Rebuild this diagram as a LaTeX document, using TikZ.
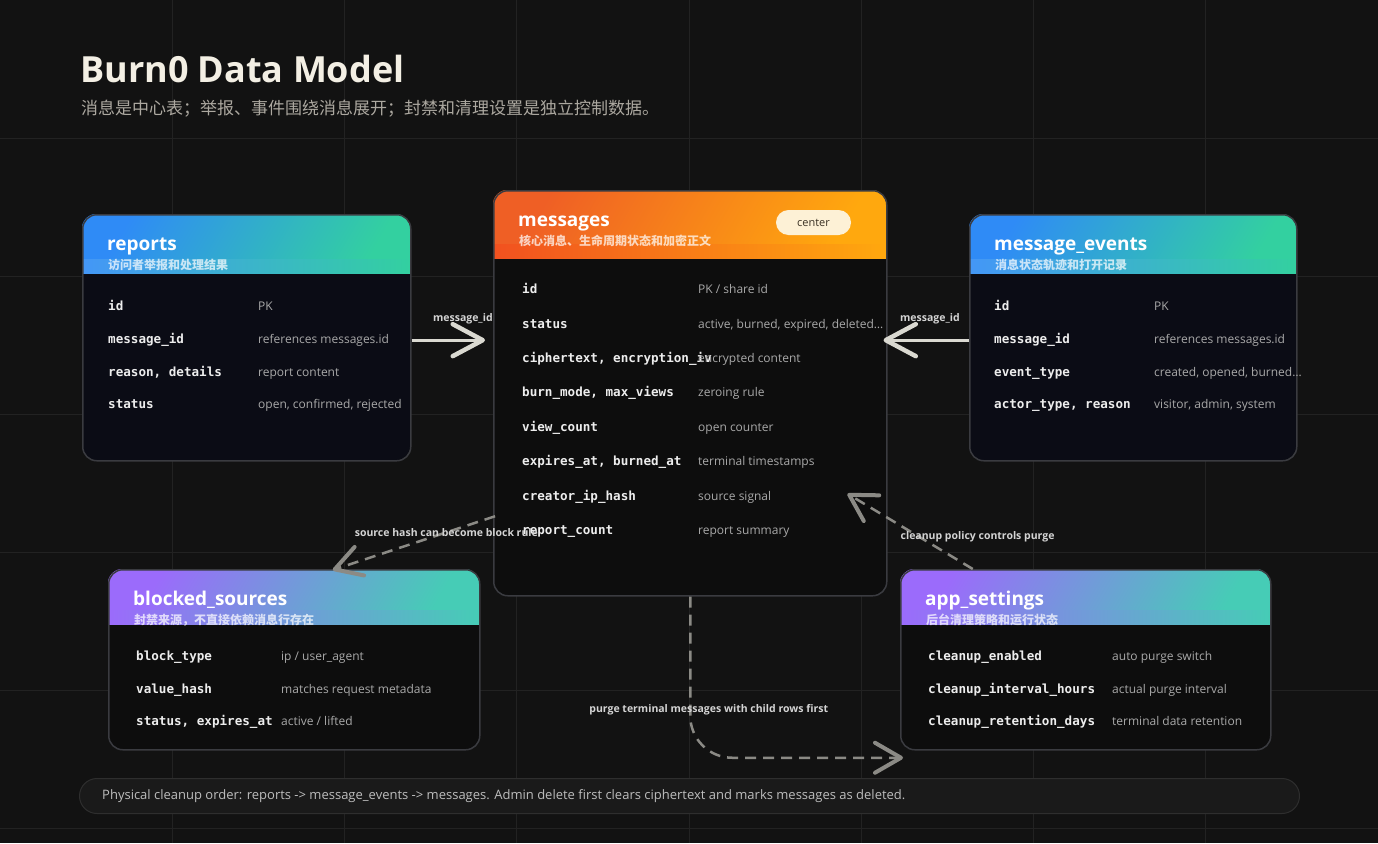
\documentclass[tikz,border=0pt]{standalone}
\usepackage{fontspec}
\setmainfont{Open Sans}
\setmonofont{DejaVu Sans Mono}
\newfontfamily\cjk{Noto Sans CJK SC}
\usetikzlibrary{arrows.meta,positioning}

\definecolor{bgcol}{HTML}{121212}
\definecolor{gridcol}{HTML}{222222}
\definecolor{titlecol}{HTML}{F3EFE4}
\definecolor{subcol}{HTML}{ACA8A0}
\definecolor{framecol}{HTML}{3A3B40}
\definecolor{navybody}{HTML}{0B0C15}
\definecolor{darkbody}{HTML}{0D0D0D}
\definecolor{keycol}{HTML}{EDEDED}
\definecolor{valcol}{HTML}{A9A9A9}
\definecolor{fkcol}{HTML}{DAD9D1}
\definecolor{dashcol}{HTML}{8B8A85}
\definecolor{lblcol}{HTML}{D4D4D4}
\definecolor{pillcol}{HTML}{FDF1D6}
\definecolor{pilltext}{HTML}{3A3124}
\definecolor{footfill}{HTML}{1A1A1A}
\definecolor{footline}{HTML}{2E2E2E}
\definecolor{foottext}{HTML}{BDBDBD}
\definecolor{hdblueA}{HTML}{2F8BF6}
\definecolor{hdblueB}{HTML}{33D0A0}
\definecolor{hdorangeA}{HTML}{EF5F25}
\definecolor{hdorangeB}{HTML}{FFA80E}
\definecolor{hdpurpleA}{HTML}{9B6BFB}
\definecolor{hdpurpleB}{HTML}{46CCB6}

\tikzset{
  tblframe/.style={draw=framecol, line width=1.5pt, rounded corners=14pt, inner sep=0pt},
  tbltitle/.style={anchor=base west, inner sep=0pt, text=white, font=\bfseries\fontsize{19}{22}\selectfont},
  tblsub/.style={anchor=base west, inner sep=0pt, text=white, text opacity=0.72, font=\cjk\bfseries\fontsize{12}{14}\selectfont},
  keytxt/.style={anchor=base west, inner sep=0pt, text height=9pt, text depth=2.5pt, text=keycol, font=\ttfamily\bfseries\fontsize{12.6}{14}\selectfont},
  valtxt/.style={anchor=base west, inner sep=0pt, text height=9pt, text depth=2.5pt, text=valcol, font=\fontsize{12}{14}\selectfont},
  lbl/.style={inner sep=0pt, text=lblcol, font=\bfseries\fontsize{10.5}{12}\selectfont},
  fkarrow/.style={draw=fkcol, line width=3pt, -{Straight Barb[length=30pt,width=32pt,line width=4.5pt,round]}},
  dasharrow/.style={draw=dashcol, line width=2.5pt, dash pattern=on 11pt off 7pt, -{Straight Barb[length=26pt,width=30pt,line width=4pt,round]}},
  gridline/.style={draw=gridcol, line width=1pt},
  pill/.style={fill=pillcol, rounded corners=12.5pt, minimum width=75pt, minimum height=25pt, inner sep=0pt, text=pilltext, font=\fontsize{11}{13}\selectfont},
  footbar/.style={fill=footfill, draw=footline, line width=1pt, rounded corners=17.5pt, inner sep=0pt},
  bluebody/.style={fill=navybody},
  orangebody/.style={fill=darkbody},
  purplebody/.style={fill=darkbody},
  bluehead/.style={left color=hdblueA, right color=hdblueB, shading angle=60},
  orangehead/.style={left color=hdorangeA, right color=hdorangeB, shading angle=60},
  purplehead/.style={left color=hdpurpleA, right color=hdpurpleB, shading angle=60},
  bluebar/.style={left color=hdblueA!90!white, right color=hdblueB},
  orangebar/.style={left color=hdorangeA!85!red, right color=hdorangeB},
  purplebar/.style={left color=hdpurpleA, right color=hdpurpleB},
}

% table: name, left, top, width, height, header height, theme, title, subtitle
\newcommand{\dbtable}[9]{%
  \fill[#7body, rounded corners=14pt] (#2,#3) rectangle ++(#4,#5);
  \begin{scope}
    \clip[rounded corners=14pt] (#2,#3) rectangle ++(#4,#5);
    \shade[#7head] (#2,#3) rectangle ++(#4,#6);
    \shade[#7bar] (#2,#3+#6-14) rectangle ++(#4,14);
  \end{scope}
  \node[tblframe, minimum width=#4pt, minimum height=#5pt, anchor=north west] (#1) at (#2,#3) {};
  \node[tbltitle] (#1-title) at (#2+25,#3+36) {#8};
  \node[tblsub] (#1-sub) at (#2+26,#3+55) {#9};
}

\begin{document}
\begin{tikzpicture}[x=1pt, y=-1pt]
  % canvas and grid
  \fill[bgcol] (0,0) rectangle (1378,843);
  \useasboundingbox (0,0) rectangle (1378,843);
  \foreach \gx in {1,...,7}
    \draw[gridline] (\gx*172.25,0) -- (\gx*172.25,843);
  \foreach \gy in {1,...,6}
    \draw[gridline] (0,\gy*138) -- (1378,\gy*138);

  % heading
  \node[anchor=base west, inner sep=0pt, text=titlecol, font=\bfseries\fontsize{36}{40}\selectfont] (title) at (80,82) {Burn0 Data Model};
  \node[anchor=base west, inner sep=0pt, text=subcol, font=\cjk\fontsize{17}{20}\selectfont] (subtitle) at (81,114.5) {消息是中心表；举报、事件围绕消息展开；封禁和清理设置是独立控制数据。};

  % tables
  \dbtable{reports}{82}{214}{328}{246}{59}{blue}{reports}{访问者举报和处理结果}
  \dbtable{messages}{493}{190}{393}{405}{68}{orange}{messages}{核心消息、生命周期状态和加密正文}
  \dbtable{events}{969}{214}{327}{246}{59}{blue}{message\_events}{消息状态轨迹和打开记录}
  \dbtable{blocked}{108}{569}{371}{180}{55}{purple}{blocked\_sources}{封禁来源，不直接依赖消息行存在}
  \dbtable{settings}{900}{569}{370}{180}{55}{purple}{app\_settings}{后台清理策略和运行状态}
  \node[pill] (badge) at (813.5,222.5) {center};

  % columns
  \foreach \k/\v [count=\i] in {id/PK, message\_id/references messages.id, {reason, details}/report content, status/{open, confirmed, rejected}} {
    \node[keytxt] (reports-k\i) at (108,{310.7+32.7*(\i-1)}) {\k};
    \node[valtxt] (reports-v\i) at (258,{310.7+32.7*(\i-1)}) {\v};
  }
  \foreach \k/\v [count=\i] in {id/{PK / share id}, status/{active, burned, expired, deleted…}, {ciphertext, encryption\_iv}/encrypted content, {burn\_mode, max\_views}/zeroing rule, view\_count/open counter, {expires\_at, burned\_at}/terminal timestamps, creator\_ip\_hash/source signal, report\_count/report summary} {
    \node[keytxt] (messages-k\i) at (522,{293.7+34.4*(\i-1)}) {\k};
    \node[valtxt] (messages-v\i) at (698,{293.7+34.4*(\i-1)}) {\v};
  }
  \foreach \k/\v [count=\i] in {id/PK, message\_id/references messages.id, event\_type/{created, opened, burned…}, {actor\_type, reason}/{visitor, admin, system}} {
    \node[keytxt] (events-k\i) at (994,{310.7+32.7*(\i-1)}) {\k};
    \node[valtxt] (events-v\i) at (1154,{310.7+32.7*(\i-1)}) {\v};
  }
  \foreach \k/\v [count=\i] in {block\_type/{ip / user\_agent}, value\_hash/matches request metadata, {status, expires\_at}/{active / lifted}} {
    \node[keytxt] (blocked-k\i) at (136,{660.7+32.5*(\i-1)}) {\k};
    \node[valtxt] (blocked-v\i) at (281,{660.7+32.5*(\i-1)}) {\v};
  }
  \foreach \k/\v [count=\i] in {cleanup\_enabled/auto purge switch, cleanup\_interval\_hours/actual purge interval, cleanup\_retention\_days/terminal data retention} {
    \node[keytxt] (settings-k\i) at (928,{660.7+32.5*(\i-1)}) {\k};
    \node[valtxt] (settings-v\i) at (1112,{660.7+32.5*(\i-1)}) {\v};
  }

  % relations
  \draw[fkarrow, shorten >=8pt] (reports.east |- reports-k2) -- (messages.west |- reports-k2)
    node[lbl, pos=0.63, above=15pt] {message\_id};
  \draw[fkarrow, shorten >=-4pt] (events.west |- events-k2) -- (messages.east |- events-k2)
    node[lbl, pos=0.48, above=15pt] {message\_id};
  \draw[dasharrow] ([xshift=2pt,yshift=-123pt]messages.west) -- ([xshift=38.5pt,yshift=-1pt]blocked.north)
    node[lbl, pos=0.3] {source hash can become block rule};
  \draw[dasharrow] ([xshift=-113pt]settings.north) -- ([xshift=-40pt,yshift=-100.5pt]messages.east)
    node[lbl, pos=0.43, anchor=west, xshift=-19.5pt] {cleanup policy controls purge};
  \draw[dasharrow, rounded corners=42pt] (messages.south) |- node[lbl, pos=0.35, xshift=18.5pt] {purge terminal messages with child rows first} ([xshift=3pt,yshift=-98pt]settings.west);

  % footer
  \node[footbar, minimum width=1220pt, minimum height=35pt, anchor=north west] (footer) at (79,778) {};
  \node[anchor=west, inner sep=0pt, text=foottext, font=\fontsize{13}{15}\selectfont] (footnote) at ([xshift=23pt]footer.west) {Physical cleanup order: reports -> message\_events -> messages. Admin delete first clears ciphertext and marks messages as deleted.};
\end{tikzpicture}
\end{document}
